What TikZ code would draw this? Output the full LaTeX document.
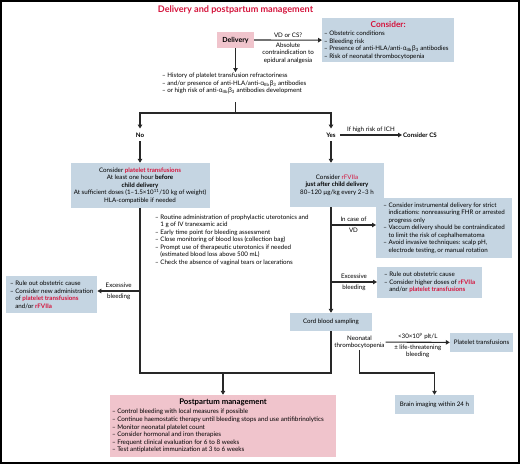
\documentclass[tikz,border=0pt]{standalone}
\usepackage{fontspec}
\setmainfont{Lato}
\newfontfamily\grkfont{Open Sans}
\usetikzlibrary{arrows.meta}

\definecolor{boxblue}{RGB}{197,213,226}
\definecolor{boxpink}{RGB}{240,196,204}
\definecolor{accent}{RGB}{212,20,60}
\definecolor{linegray}{RGB}{40,40,40}

\newcommand\smalltxt{\fontsize{6.2}{7.5}\selectfont}
\newcommand\headtxt{\fontsize{8.3}{9.5}\selectfont\bfseries}
\newcommand\indnt{\phantom{–\ }}
\newcommand\ab{{\grkfont α}\textsubscript{IIb}{\grkfont β}\textsubscript{3}}
\newcommand\hl[1]{\textcolor{accent}{\bfseries #1}}

\begin{document}
\begin{tikzpicture}[x=1pt, y=-1pt,
  box/.style={inner sep=2pt, font=\smalltxt},
  bluebox/.style={box, fill=boxblue},
  pinkbox/.style={box, fill=boxpink},
  txt/.style={inner sep=1pt, font=\smalltxt},
  ln/.style={line width=1.1pt, draw=linegray},
  arr/.style={ln, -{Triangle[length=4pt,width=4.5pt]}}]
\useasboundingbox (0,0) rectangle (520,464);
\draw[line width=1.8pt] (0.9,0.9) rectangle (519.1,463.1);

\node[txt, font=\fontsize{9.1}{10}\selectfont\bfseries, text=accent] (title) at (235.5,9.5) {Delivery and postpartum management};

% delivery and what to consider
\node[pinkbox, minimum width=37pt, minimum height=16pt, font=\fontsize{7}{8}\selectfont\bfseries] (delivery) at (235.5,40) {Delivery};
\node[bluebox, anchor=north west, minimum width=132pt, minimum height=44pt, align=left] (consider) at (322,18)
  {\makebox[128pt]{\headtxt\color{accent}Consider:}\\[1pt]
   – Obstetric conditions\\ – Bleeding risk\\ – Presence of anti-HLA/anti-\ab\ antibodies\\ – Risk of neonatal thrombocytopenia};
\draw[arr] (delivery) -- (consider)
  node[midway, above, txt, yshift=1pt] {VD or CS?}
  node[midway, below, txt, align=center, yshift=-1pt] {Absolute\\contraindication to\\epidural analgesia};

\node[txt, anchor=north west, align=left] (risk) at (161,72)
  {– History of platelet transfusion refractoriness\\
   – and/or presence of anti-HLA/anti-\ab\ antibodies\\
   – or high risk of anti-\ab\ antibodies development};
\draw[arr] (delivery) -- (delivery |- risk.north);

% no / yes split
\coordinate (split) at (235.5,113);
\node[txt, inner sep=4pt, font=\smalltxt\bfseries] (no) at (140,135) {No};
\node[txt, inner sep=4pt, font=\smalltxt\bfseries] (yes) at (331,135) {Yes};
\draw[ln] ([yshift=-7pt]delivery |- risk.south) -- (split);
\draw[arr] (split) -| (no);
\draw[arr] (split) -| (yes);

\node[txt, anchor=west, font=\smalltxt\bfseries] (cs) at (402,135) {Consider CS};
\draw[arr] (yes) -- (cs) node[midway, above, txt, yshift=1pt] {If high risk of ICH};

% left branch
\node[bluebox, minimum width=139pt, minimum height=45pt, align=center] (platelets) at (140,185.5)
  {Consider \hl{platelet transfusions}\\ At least one hour \textbf{before}\\ \textbf{child delivery}\\
   At sufficient doses (1–1.5×10\textsuperscript{11}/10 kg of weight)\\ HLA-compatible if needed};
\draw[arr] (no) -- (platelets);

\node[bluebox, anchor=north west, minimum width=91pt, minimum height=37pt, align=left] (lbleedbox) at (6,276)
  {– Rule out obstetric cause\\ – Consider new administration\\ \indnt of \hl{platelet transfusions}\\ \indnt and/or \hl{rFVIIa}};
\coordinate (lbleed) at (140,291);
\draw[arr] (lbleed) -- (lbleed -| lbleedbox.east)
  node[midway, above, txt, yshift=1.5pt] {Excessive}
  node[midway, below, txt, yshift=-1.5pt] {bleeding};

\node[txt, anchor=north west, align=left] (routine) at (154,213.5)
  {– Routine administration of prophylactic uterotonics and\\
   \indnt 1 g of IV tranexamic acid\\
   – Early time point for bleeding assessment\\
   – Close monitoring of blood loss (collection bag)\\
   – Prompt use of therapeutic uterotonics if needed\\
   \indnt (estimated blood loss above 500 mL)\\
   – Check the absence of vaginal tears or lacerations};

% right branch
\node[bluebox, minimum width=94pt, minimum height=44pt, align=center] (rfviia) at (337,185)
  {Consider \textcolor{accent}{rFVIIa}\\ \textbf{just after child delivery}\\ 80–120 µg/kg every 2–3 h};
\draw[arr] (yes) -- (yes |- rfviia.north);

\node[bluebox, anchor=north west, minimum width=136pt, minimum height=60pt, align=left] (vdbox) at (376,198)
  {– Consider instrumental delivery for strict\\ \indnt indications: nonreassuring FHR or arrested\\ \indnt progress only\\
   – Vaccum delivery should be contraindicated\\ \indnt to limit the risk of cephalhematoma\\
   – Avoid invasive techniques: scalp pH,\\ \indnt electrode testing, or manual rotation};
\coordinate (vdfork) at (331,225);
\draw[arr] (vdfork) -- (vdfork -| vdbox.west)
  node[midway, above, txt, yshift=1.5pt] {In case of}
  node[midway, below, txt, yshift=-1.5pt] {VD};

\node[bluebox, anchor=north west, minimum width=105pt, minimum height=31pt, align=left] (rbleedbox) at (377,267)
  {– Rule out obstetric cause\\ – Consider higher doses of \hl{rFVIIa}\\ \indnt and/or \hl{platelet transfusions}};
\coordinate (rbleed) at (331,282);
\draw[arr] (rbleed) -- (rbleed -| rbleedbox.west)
  node[midway, above, txt, yshift=1.5pt] {Excessive}
  node[midway, below, txt, yshift=-1.5pt] {bleeding};

\node[bluebox, minimum width=82pt, minimum height=18pt] (cord) at (331,322) {Cord blood sampling};
\draw[arr] (rfviia.south -| yes) -- (cord);

% neonatal part
\node[txt, align=center] (neonatal) at (359.5,342) {Neonatal\\thrombocytopenia};
\node[bluebox, minimum width=63pt, minimum height=19pt] (ptbox) at (481.5,342.5) {Platelet transfusions};
\draw[arr] (neonatal) -- (ptbox)
  node[midway, above, txt, yshift=1pt] {<30×10\textsuperscript{9} plt/L}
  node[midway, below, txt, align=center, yshift=-1pt] {± life-threatening\\bleeding};

\node[bluebox, minimum width=79pt, minimum height=19pt] (brain) at (434.5,404.5) {Brain imaging within 24 h};
\coordinate (brainturn) at (434.5,373);
\draw[arr] (neonatal.south) |- (brainturn) -- (brain);

% postpartum
\coordinate (leftcorner) at (140,373);
\coordinate (rightcorner) at (331,373);
\draw[ln] (platelets) -- (leftcorner) -- (rightcorner) -- (cord);
\node[pinkbox, minimum width=226pt, minimum height=62pt, align=left,
      font=\fontsize{6.3}{7.6}\selectfont] (postpartum) at (223,426)
  {\makebox[222pt]{\fontsize{7.8}{9}\selectfont\bfseries Postpartum management}\\[1.5pt]
   – Control bleeding with local measures if possible\\
   – Continue haemostatic therapy until bleeding stops and use antifibrinolytics\\
   – Monitor neonatal platelet count\\
   – Consider hormonal and iron therapies\\
   – Frequent clinical evaluation for 6 to 8 weeks\\
   – Test antiplatelet immunization at 3 to 6 weeks};
\draw[arr] (postpartum.north |- leftcorner) -- (postpartum);
\end{tikzpicture}
\end{document}
